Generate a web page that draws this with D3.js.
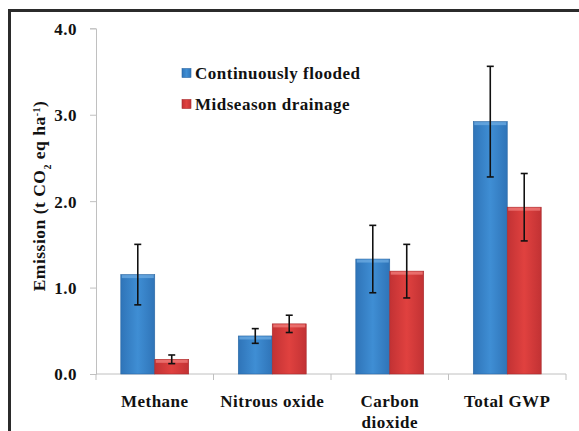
<!DOCTYPE html>
<html><head><meta charset="utf-8">
<script src="https://cdn.jsdelivr.net/npm/d3@7"></script>
<style>body{margin:0;background:#fff;}</style>
</head><body>
<svg id="c" width="579" height="431"></svg>
<script>
const categories = [["Methane"], ["Nitrous oxide"], ["Carbon", "dioxide"], ["Total GWP"]];
const seriesNames = ["Continuously flooded", "Midseason drainage"];
const continuouslyFlooded = [1.15, 0.44, 1.33, 2.92];
const continuouslyFloodedErr = [0.35, 0.085, 0.39, 0.64];
const midseasonDrainage = [0.17, 0.58, 1.19, 1.93];
const midseasonDrainageErr = [0.05, 0.10, 0.31, 0.39];
const yTicks = [0, 1, 2, 3, 4];

const FONT = "'Liberation Serif', 'DejaVu Serif', 'Noto Serif', 'Times New Roman', Times, serif";
const svg = d3.select("#c").attr("font-family", FONT).attr("font-weight", "bold");
const defs = svg.append("defs");
function grad(id, edge, mid) {
  const g = defs.append("linearGradient").attr("id", id).attr("x1", "0").attr("x2", "1").attr("y1", "0").attr("y2", "0");
  g.append("stop").attr("offset", "0").attr("stop-color", edge);
  g.append("stop").attr("offset", "0.5").attr("stop-color", mid);
  g.append("stop").attr("offset", "1").attr("stop-color", edge);
}
grad("gBlue", "#2f74b8", "#3f8ed4");
grad("gRed", "#c23234", "#e0413f");

function styleText(sel, size) {
  return sel.style("font-family", FONT).style("font-weight", "bold").style("fill", "#111")
    .style("font-size", size + "px").style("letter-spacing", "0.5px");
}

// frame
svg.append("line").attr("x1", 9.5).attr("x2", 579).attr("y1", 10.5).attr("y2", 10.5).attr("stroke", "#2b2b2b").attr("stroke-width", 3);
svg.append("line").attr("x1", 9.5).attr("x2", 9.5).attr("y1", 9).attr("y2", 431).attr("stroke", "#2b2b2b").attr("stroke-width", 3);

const x0 = 96, x1 = 566, yTop = 28.3, yBot = 374;
const y = d3.scaleLinear().domain([0, 4]).range([yBot, yTop]);
const x = d3.scaleBand().domain(d3.range(categories.length)).range([x0, x1]).paddingInner(0).paddingOuter(0);
const xs = d3.scaleBand().domain([0, 1]).range([0, x.bandwidth()]).paddingInner(0).paddingOuter(0.73);

// y axis
const yAxis = d3.axisLeft(y).tickValues(yTicks).tickFormat(d3.format(".1f")).tickSize(6).tickPadding(13);
const ga = svg.append("g").attr("transform", `translate(${x0},0)`).call(yAxis);
ga.attr("font-family", null).attr("font-size", null);
ga.select(".domain").attr("stroke", "#c0c0c0");
ga.selectAll(".tick line").attr("stroke", "#c0c0c0");
styleText(ga.selectAll(".tick text"), 17).attr("dy", "0.35em");

// x axis
const gx = svg.append("g").attr("transform", `translate(0,${yBot})`);
gx.append("line").attr("x1", x0).attr("x2", x1).attr("stroke", "#c0c0c0");
const bounds = d3.range(categories.length + 1).map(i => i < categories.length ? x(i) : x1);
gx.selectAll("line.t").data(bounds).join("line").attr("class", "t")
  .attr("x1", d => d).attr("x2", d => d).attr("y1", 0).attr("y2", 6).attr("stroke", "#c0c0c0");

const series = [
  {vals: continuouslyFlooded, err: continuouslyFloodedErr, fill: "url(#gBlue)", edge: "#2a67a3", hi: "#6aa9e0"},
  {vals: midseasonDrainage, err: midseasonDrainageErr, fill: "url(#gRed)", edge: "#a82a2c", hi: "#ef7a78"}
];

series.forEach((s, si) => {
  const g = svg.append("g");
  s.vals.forEach((v, i) => {
    const bx = x(i) + xs(si), bw = xs.bandwidth();
    g.append("rect").attr("x", bx).attr("y", y(v)).attr("width", bw).attr("height", yBot - y(v))
      .attr("fill", s.fill).attr("stroke", s.edge).attr("stroke-width", 0.6);
    g.append("rect").attr("x", bx + 1).attr("y", y(v) + 0.5).attr("width", bw - 2).attr("height", 3)
      .attr("fill", s.hi).attr("opacity", 0.8);
  });
});

// error bars
series.forEach((s, si) => {
  s.vals.forEach((v, i) => {
    const cx = x(i) + xs(si) + xs.bandwidth() / 2;
    const hiV = y(v + s.err[i]), loV = y(v - s.err[i]);
    const g = svg.append("g").attr("stroke", "#111").attr("stroke-width", 1.6);
    g.append("line").attr("x1", cx).attr("x2", cx).attr("y1", hiV).attr("y2", loV);
    g.append("line").attr("x1", cx - 3.5).attr("x2", cx + 3.5).attr("y1", hiV).attr("y2", hiV);
    g.append("line").attr("x1", cx - 3.5).attr("x2", cx + 3.5).attr("y1", loV).attr("y2", loV);
  });
});

// category labels
categories.forEach((lines, i) => {
  const cx = x(i) + x.bandwidth() / 2;
  const t = styleText(svg.append("text"), 17).attr("x", cx).attr("y", 407).attr("text-anchor", "middle");
  lines.forEach((l, j) => t.append("tspan").attr("x", cx).attr("dy", j === 0 ? 0 : 21).text(l));
});

// y title
const yt = styleText(svg.append("text"), 17.5).attr("transform", "translate(45,196) rotate(-90)").attr("text-anchor", "middle");
yt.append("tspan").text("Emission (t CO");
yt.append("tspan").attr("baseline-shift", "sub").style("font-size", "10px").text("2");
yt.append("tspan").text(" eq ha");
yt.append("tspan").attr("baseline-shift", "super").style("font-size", "10px").text("-1");
yt.append("tspan").text(")");

// legend
const legendColors = [["url(#gBlue)", "#2a67a3"], ["url(#gRed)", "#a82a2c"]];
seriesNames.forEach((n, i) => {
  const ly = 73 + i * 31;
  svg.append("rect").attr("x", 182).attr("y", ly - 4.5).attr("width", 9).attr("height", 9)
    .attr("fill", legendColors[i][0]).attr("stroke", legendColors[i][1]).attr("stroke-width", 0.6);
  styleText(svg.append("text"), 17).attr("x", 195).attr("y", ly).attr("dy", "0.35em").text(n);
});
</script>
</body></html>
